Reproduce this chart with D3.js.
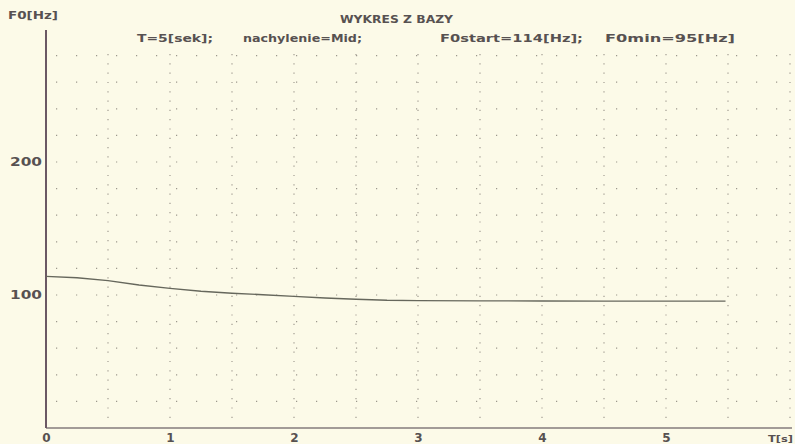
<!DOCTYPE html>
<html>
<head>
<meta charset="utf-8">
<script src="https://cdn.jsdelivr.net/npm/d3@7"></script>
<style>
  body { margin: 0; background: #fcfae8; }
  svg { display: block; }
  text { font-family: "DejaVu Sans", sans-serif; font-weight: bold; fill: #575151; }
</style>
</head>
<body>
<svg id="chart"></svg>
<script>
var width = 795,
    height = 444;

// F0 contour
var times = [0, 0.25, 0.5, 0.75, 1.0, 1.25, 1.5, 1.75, 2.0, 2.25, 2.5, 2.75, 3.0, 3.5, 4.0, 4.5, 5.0, 5.48];
var f0 = [114, 113, 110.8, 107.5, 105, 102.8, 101.3, 100.2, 99, 97.7, 96.8, 96, 95.8, 95.6, 95.5, 95.4, 95.4, 95.4];

var xTicks = [0, 1, 2, 3, 4, 5];
var yTicks = [100, 200];
var title = "WYKRES Z BAZY";
var yLabel = "F0[Hz]";
var xLabel = "T[s]";
var params = ["T=5[sek];", "nachylenie=Mid;", "F0start=114[Hz];", "F0min=95[Hz]"];
var paramPos = [[137, 76], [243, 119], [440, 143], [605, 130]];

var x = d3.scaleLinear().domain([0, 6]).range([46, 790]);
var y = d3.scaleLinear().domain([0, 300]).range([428, 29]);

var svg = d3.select("#chart")
    .attr("width", width)
    .attr("height", height);

svg.append("rect")
    .attr("width", width)
    .attr("height", height)
    .attr("fill", "#fcfae8");

// dotted grid
var grid = svg.append("g");
grid.selectAll(".hgrid")
    .data(d3.range(20, 300, 20))
    .enter().append("line")
    .attr("class", "hgrid")
    .attr("x1", 56).attr("x2", 792)
    .attr("y1", function (d) { return y(d); })
    .attr("y2", function (d) { return y(d); })
    .attr("stroke", "#9c978c")
    .attr("stroke-width", 1.2)
    .attr("stroke-dasharray", "1.2,18.8");

grid.selectAll(".vgrid")
    .data(d3.range(0.5, 6.01, 0.5))
    .enter().append("line")
    .attr("class", "vgrid")
    .attr("x1", function (d) { return x(d); })
    .attr("x2", function (d) { return x(d); })
    .attr("y1", 54).attr("y2", 426)
    .attr("stroke", "#a19c91")
    .attr("stroke-width", 1.2)
    .attr("stroke-dasharray", "1.2,8.1");

// axes
var xAxis = svg.append("g")
    .attr("transform", "translate(0," + y(0) + ")")
    .call(d3.axisBottom(x).tickValues(xTicks).tickSize(0).tickPadding(5).tickFormat(d3.format("d")));
xAxis.select(".domain").attr("stroke", "#857b7c").attr("stroke-width", 1.5)
    .attr("d", "M" + x(0) + ",0H" + 792);
xAxis.selectAll("text").attr("font-size", 12).attr("font-family", "DejaVu Sans")
    .attr("font-weight", "bold").attr("fill", "#575151");

var yAxis = svg.append("g")
    .attr("transform", "translate(" + x(0) + ",0)")
    .call(d3.axisLeft(y).tickValues(yTicks).tickSize(0).tickPadding(4));
yAxis.select(".domain").attr("stroke", "#6b5864").attr("stroke-width", 2)
    .attr("d", "M0," + 30 + "V" + y(0));
yAxis.selectAll("text").attr("font-size", 12).attr("font-family", "DejaVu Sans")
    .attr("font-weight", "bold").attr("fill", "#575151")
    .attr("textLength", 32).attr("lengthAdjust", "spacingAndGlyphs");

// curve
var line = d3.line()
    .x(function (d, i) { return x(times[i]); })
    .y(function (d) { return y(d); });

svg.append("path")
    .datum(f0)
    .attr("d", line)
    .attr("fill", "none")
    .attr("stroke", "#66675c")
    .attr("stroke-width", 1.4);

// labels
svg.append("text").attr("x", 8).attr("y", 19)
    .attr("font-size", 10).attr("textLength", 50).attr("lengthAdjust", "spacingAndGlyphs")
    .text(yLabel);
svg.append("text").attr("x", 340).attr("y", 23)
    .attr("font-size", 10).attr("textLength", 113).attr("lengthAdjust", "spacingAndGlyphs")
    .text(title);
svg.selectAll(".param")
    .data(params)
    .enter().append("text")
    .attr("class", "param")
    .attr("x", function (d, i) { return paramPos[i][0]; })
    .attr("y", 42)
    .attr("font-size", 10)
    .attr("textLength", function (d, i) { return paramPos[i][1]; })
    .attr("lengthAdjust", "spacingAndGlyphs")
    .text(function (d) { return d; });
svg.append("text").attr("x", 768).attr("y", 442)
    .attr("font-size", 9).attr("font-weight", "normal").attr("textLength", 25).attr("lengthAdjust", "spacingAndGlyphs")
    .text(xLabel);
</script>
</body>
</html>
